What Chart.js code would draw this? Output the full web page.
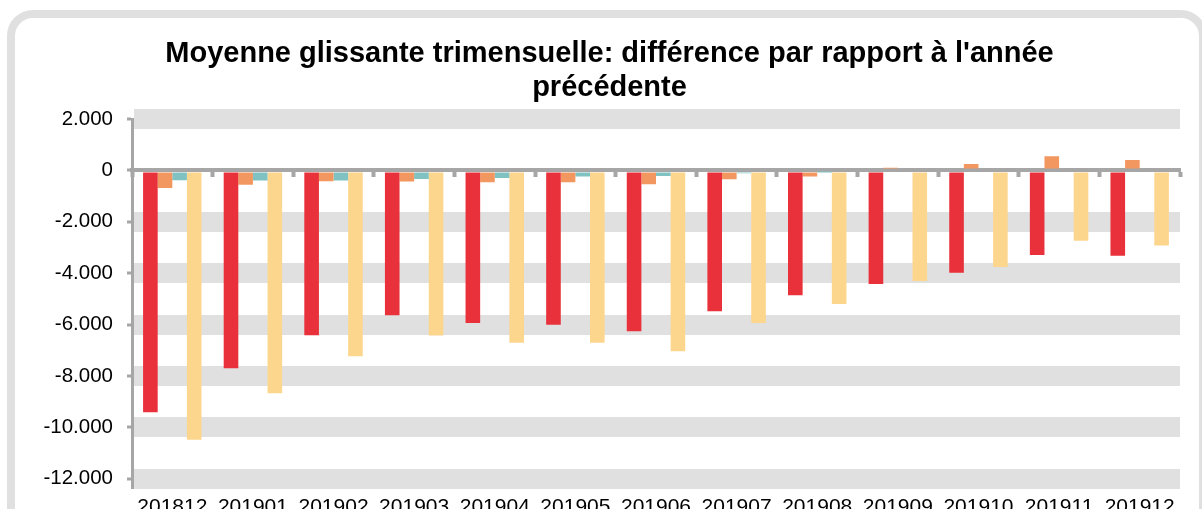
<!DOCTYPE html>
<html>
<head>
<meta charset="utf-8">
<script src="https://cdn.jsdelivr.net/npm/chart.js@4"></script>
<style>
    html, body { margin: 0; padding: 0; background: #fff; overflow: hidden; width: 1202px; height: 509px; }
    #cadre {
        position: absolute; left: 7px; top: 10px; width: 1200px; height: 540px;
        border: 8px solid #e0e0e0; border-radius: 26px; box-sizing: border-box; background: #fff;
    }
    #zone { position: absolute; left: 0; top: 0; width: 1202px; height: 540px; }
</style>
</head>
<body>
<div id="cadre"></div>
<div id="zone"><canvas id="graphique"></canvas></div>
<script>
// categories (mois)
const mois = ["201812", "201901", "201902", "201903", "201904", "201905", "201906",
              "201907", "201908", "201909", "201910", "201911", "201912"];

// series
const serieRouge  = [-9415, -7700, -6410, -5640, -5940, -6010, -6260, -5480, -4860, -4420, -3980, -3290, -3320];
const serieOrange = [-680, -560, -420, -430, -460, -460, -535, -340, -235, 100, 250, 550, 400];
const serieBleue  = [-380, -390, -390, -330, -300, -240, -220, -110, -40, 0, 0, 0, 0];
const serieJaune  = [-10480, -8670, -7230, -6420, -6710, -6710, -7040, -5940, -5200, -4300, -3760, -2740, -2920];

// axe vertical
const yMin = -12000;
const yMax = 2000;
const yPas = 2000;

const titre = ["Moyenne glissante trimensuelle: différence par rapport à l'année", "précédente"];

function formatMilliers(v) {
    const s = String(Math.abs(v)).replace(/\B(?=(\d{3})+(?!\d))/g, ".");
    return (v < 0 ? "-" : "") + s;
}

const police = "'Liberation Sans', Arial, sans-serif";

document.addEventListener("DOMContentLoaded", function () {
    const ctx = document.getElementById("graphique").getContext("2d");

    function serie(data, couleur) {
        return {
            data: data,
            backgroundColor: couleur,
            borderWidth: 0,
            categoryPercentage: 0.725,
            barPercentage: 1.0
        };
    }

    new Chart(ctx, {
        type: "bar",
        data: {
            labels: mois,
            datasets: [
                serie(serieRouge, "#e8313a"),
                serie(serieOrange, "#f2975f"),
                serie(serieBleue, "#80c1c1"),
                serie(serieJaune, "#fdd68e")
            ]
        },
        options: {
            responsive: true,
            maintainAspectRatio: false,
            animation: false,
            layout: { padding: { top: 37, right: 0, left: 17, bottom: 4 } },
            plugins: {
                legend: { display: false },
                tooltip: { enabled: false },
                title: {
                    display: true,
                    text: titre,
                    color: "#000",
                    font: { family: police, size: 29, weight: "bold", lineHeight: 34 / 29 },
                    padding: { top: 0, bottom: 14 }
                }
            },
            scales: {
                x: {
                    grid: { display: false, drawTicks: false },
                    border: { display: false },
                    ticks: {
                        color: "#000",
                        font: { family: police, size: 21 },
                        padding: 16,
                        maxRotation: 0,
                        autoSkip: false
                    }
                },
                xZero: {
                    type: "category",
                    labels: mois,
                    position: { y: 0 },
                    offset: true,
                    z: 1,
                    grid: {
                        offset: true,
                        drawOnChartArea: false,
                        drawTicks: true,
                        tickLength: 5,
                        tickColor: "#a6a6a6",
                        tickWidth: 4
                    },
                    border: { display: true, color: "#a6a6a6", width: 4 },
                    ticks: { display: false }
                },
                y: {
                    min: yMin,
                    max: yMax,
                    afterFit: function (scale) { scale.width = 115; },
                    afterBuildTicks: function (scale) {
                        const t = [];
                        for (let v = yMax; v >= yMin; v -= yPas) t.push({ value: v });
                        scale.ticks = t;
                    },
                    grid: {
                        color: function (c) { return c.tick && c.tick.value === 0 ? "rgba(0,0,0,0)" : "#e0e0e0"; },
                        lineWidth: function (c) { return c.tick && c.tick.value === 0 ? 4 : 20; },
                        tickLength: 5,
                        tickColor: "#a6a6a6",
                        tickWidth: 3
                    },
                    border: { display: true, color: "#a6a6a6", width: 3 },
                    ticks: {
                        color: "#000",
                        font: { family: police, size: 20.5 },
                        padding: 14,
                        callback: function (v) { return formatMilliers(v); }
                    }
                },
                // marge droite (vide)
                yDroite: {
                    position: "right",
                    min: yMin,
                    max: yMax,
                    afterFit: function (scale) { scale.width = 22; },
                    grid: { display: false },
                    border: { display: false },
                    ticks: { display: false }
                }
            }
        }
    });
});
</script>
</body>
</html>
